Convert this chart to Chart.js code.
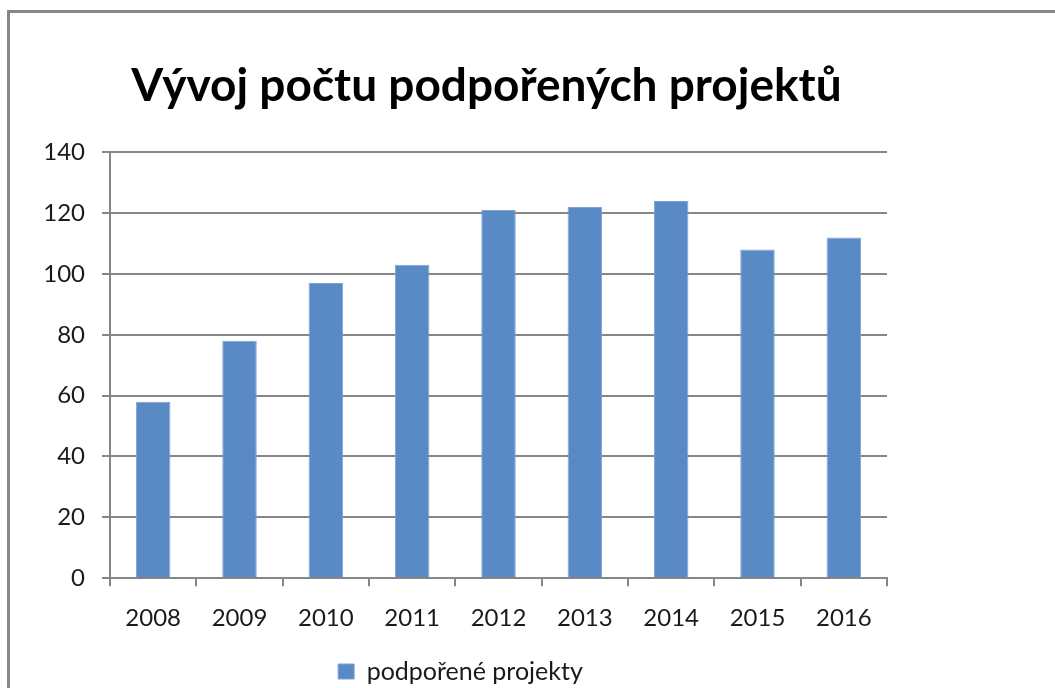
<!DOCTYPE html>
<html>
<head>
<meta charset="utf-8">
<script src="https://cdn.jsdelivr.net/npm/chart.js@4/dist/chart.umd.min.js"></script>
<style>
    html, body { margin: 0; padding: 0; background: #fff; }
    body { width: 1055px; height: 688px; position: relative; overflow: hidden; }
    .frame {
        position: absolute; left: 7px; top: 10px; right: 0; bottom: 0;
        border-top: 3px solid #868686; border-left: 3px solid #868686;
    }
    /* the original chart is cut off a little at the bottom */
    .box { position: absolute; left: 10px; top: 13px; width: 956px; height: 681px; }
</style>
</head>
<body>
<div class="frame"></div>
<div class="box"><canvas id="projChart"></canvas></div>
<script>
    // --- data ---
    const years = ['2008', '2009', '2010', '2011', '2012', '2013', '2014', '2015', '2016'];
    const projects = [58, 78, 97, 103, 121, 122, 124, 108, 112];
    const yTicks = [0, 20, 40, 60, 80, 100, 120, 140];

    const seriesName = 'podpořené projekty';
    const titleText = 'Vývoj počtu podpořených projektů';

    const gridGray = '#868686';
    const font = 'Lato';

    // title and legend are not centred on the plot in the original, nudge them
    const boxShift = {
        id: 'boxShift',
        afterLayout(chart) {
            const t = chart.titleBlock;
            if (t) { t.left += 38; t.right += 38; }
            const lg = chart.legend;
            if (lg) { lg.left += 12; lg.right += 12; }
        }
    };

    new Chart(document.getElementById('projChart'), {
        type: 'bar',
        data: {
            labels: years,
            datasets: [{
                label: seriesName,
                data: projects,
                backgroundColor: '#5A8AC6',
                borderColor: '#7EA4D6',
                borderWidth: 1,
                barPercentage: 0.4,
                categoryPercentage: 1.0
            }]
        },
        options: {
            responsive: true,
            maintainAspectRatio: false,
            animation: false,
            layout: { padding: { left: 0, right: 79, top: 0, bottom: 0 } },
            plugins: {
                title: {
                    display: true,
                    text: titleText,
                    color: '#000',
                    font: { family: font, size: 46, weight: 'bold' },
                    padding: { top: 46, bottom: 38 }
                },
                legend: {
                    position: 'bottom',
                    labels: {
                        color: '#1a1a1a',
                        font: { family: font, size: 25 },
                        boxWidth: 16,
                        boxHeight: 15,
                        padding: 8
                    }
                },
                tooltip: { enabled: false }
            },
            scales: {
                x: {
                    grid: {
                        offset: true,
                        drawOnChartArea: false,
                        drawTicks: true,
                        tickLength: 8,
                        color: gridGray,
                        lineWidth: 2
                    },
                    border: { display: true, color: gridGray, width: 2 },
                    ticks: {
                        color: '#1a1a1a',
                        font: { family: font, size: 24 },
                        padding: 18,
                        maxRotation: 0
                    }
                },
                y: {
                    min: 0,
                    max: 140,
                    afterFit: s => { s.width = 100; },
                    afterBuildTicks: s => { s.ticks = yTicks.map(v => ({ value: v })); },
                    grid: {
                        color: gridGray,
                        lineWidth: 2,
                        tickLength: 8
                    },
                    border: { display: true, color: gridGray, width: 2 },
                    ticks: {
                        color: '#1a1a1a',
                        font: { family: font, size: 24 },
                        padding: 17
                    }
                }
            }
        },
        plugins: [boxShift]
    });
</script>
</body>
</html>
